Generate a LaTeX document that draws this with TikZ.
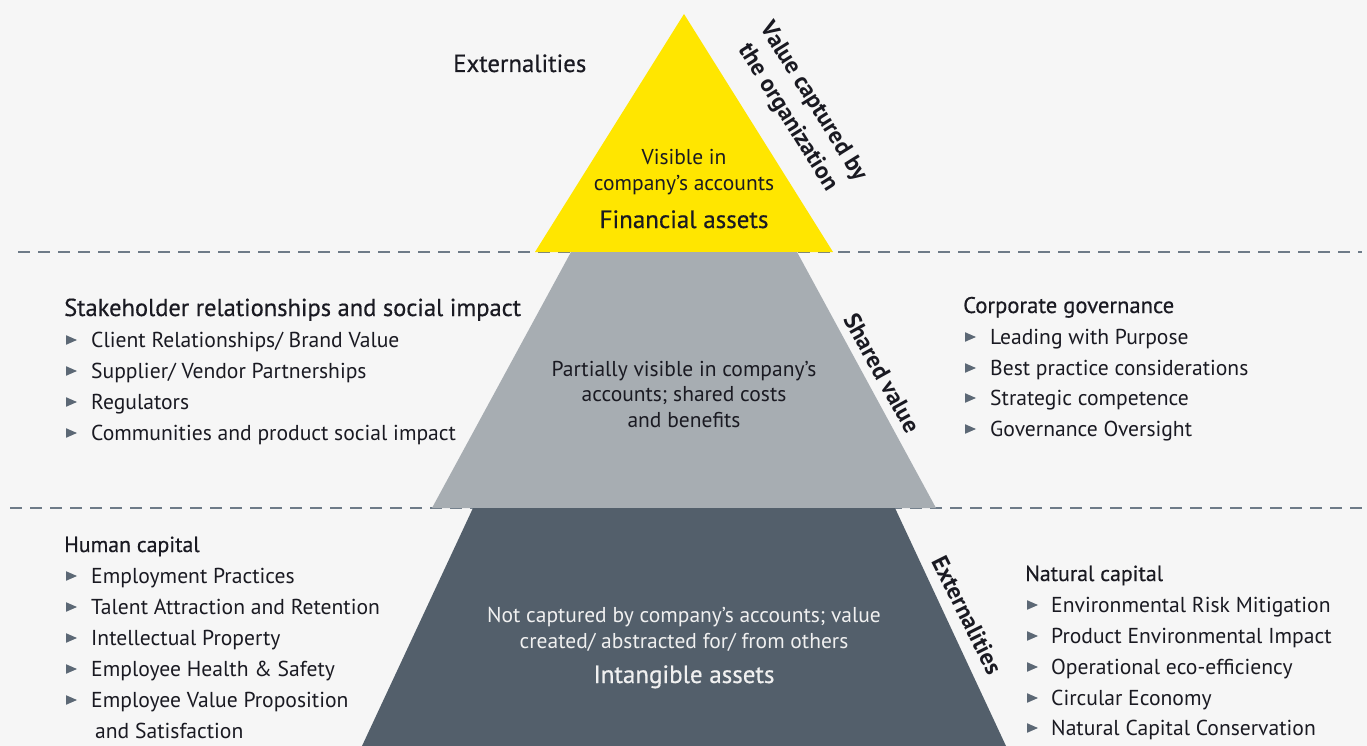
\documentclass[tikz,border=0pt]{standalone}
\usepackage{fontspec}
\setmainfont{PT Sans}
\newfontfamily\medfont[FakeBold=0.5]{PT Sans}
\definecolor{bg}{HTML}{F6F6F6}
\definecolor{yel}{HTML}{FFE600}
\definecolor{midg}{HTML}{A7ADB2}
\definecolor{darkg}{HTML}{535F6B}
\definecolor{txt}{HTML}{1A1A22}
\definecolor{bulc}{HTML}{5C6875}
\definecolor{dashc}{HTML}{6E7B88}
\definecolor{lighttxt}{HTML}{F0F0F0}
\tikzset{
  itemtext/.style={anchor=base west, inner sep=0pt, text=txt, font=\fontsize{21.6}{25}\selectfont},
  headtext/.style={anchor=base west, inner sep=0pt, text=txt, font=\medfont\fontsize{21.8}{25}\selectfont},
  centertext/.style={anchor=base, inner sep=0pt, text=txt, font=\fontsize{21.5}{25}\selectfont},
  assettext/.style={anchor=base, inner sep=0pt, text=txt, font=\medfont\fontsize{25}{28}\selectfont},
  rotlabel/.style={inner sep=0pt, text=txt, align=center, font=\bfseries\fontsize{23.8}{30}\selectfont},
  dashline/.style={draw=dashc, line width=1.4pt, dash pattern=on 12pt off 8pt},
  bullet/.pic={\fill[bulc] (0,-4.8) -- (11,0) -- (0,4.8) -- cycle;}
}
\begin{document}
\begin{tikzpicture}[x=1pt,y=-1pt]
\fill[bg] (0,0) rectangle (1367,746);
\useasboundingbox (0,0) rectangle (1367,746);

% dashed separators
\coordinate (d1a) at (18,252);
\coordinate (d1b) at (1362,252);
\coordinate (d2a) at (10,508);
\coordinate (d2b) at (1362,508);
\draw[dashline] (d1a) -- (d1b);
\draw[dashline] (d2a) -- (d2b);

% pyramid layers
\fill[yel] (684,14) -- (833,252) -- (535,252) -- cycle;
\fill[midg] (571,252) -- (797,252) -- (936,508) -- (432,508) -- cycle;
\fill[darkg] (473,508) -- (895,508) -- (1006,746) -- (362,746) -- cycle;

% top-left title
\node[anchor=base west, inner sep=0pt, text=txt, font=\medfont\fontsize{24.8}{28}\selectfont] (ext1) at (453,72) {Externalities};

% yellow layer texts
\node[centertext] (y1) at (684,165) {Visible in};
\node[centertext] (y2) at (684,191) {company’s accounts};
\node[assettext] (y3) at (684,228) {Financial assets};

% gray layer texts
\node[centertext] (g1) at (684,376) {Partially visible in company’s};
\node[centertext] (g2) at (684,401) {accounts; shared costs};
\node[centertext] (g3) at (684,427) {and benefits};

% dark layer texts
\node[centertext, text=lighttxt] (k1) at (684,622) {Not captured by company’s accounts; value};
\node[centertext, text=lighttxt] (k2) at (684,648) {created/ abstracted for/ from others};
\node[assettext, text=lighttxt] (k3) at (684,683) {Intangible assets};

% rotated side labels
\node[rotlabel, rotate=-58] (vc) at (800,110) {Value captured by\\the organization};
\node[rotlabel, rotate=-61] (sv) at (882,373) {Shared value};
\node[rotlabel, rotate=-63.5] (ex2) at (967,615) {Externalities};

% Stakeholder list
\node[headtext, font=\medfont\fontsize{24.5}{28}\selectfont] (sh) at (64,316) {Stakeholder relationships and social impact};
\pic at (66,340) {bullet};
\node[itemtext] (sh1) at (91,347) {Client Relationships/ Brand Value};
\pic at (66,371) {bullet};
\node[itemtext] (sh2) at (91,378) {Supplier/ Vendor Partnerships};
\pic at (66,402) {bullet};
\node[itemtext] (sh3) at (91,409) {Regulators};
\pic at (66,433) {bullet};
\node[itemtext] (sh4) at (91,440) {Communities and product social impact};

% Human capital list
\node[headtext] (hc) at (64,552) {Human capital};
\pic at (66,576) {bullet};
\node[itemtext] (hc1) at (91,583) {Employment Practices};
\pic at (66,607) {bullet};
\node[itemtext] (hc2) at (91,614) {Talent Attraction and Retention};
\pic at (66,638) {bullet};
\node[itemtext] (hc3) at (91,645) {Intellectual Property};
\pic at (66,669) {bullet};
\node[itemtext] (hc4) at (91,676) {Employee Health \& Safety};
\pic at (66,700) {bullet};
\node[itemtext] (hc5) at (91,707) {Employee Value Proposition};
\node[itemtext] (hc6) at (95,738) {and Satisfaction};

% Corporate governance list
\node[headtext, font=\medfont\fontsize{22.6}{26}\selectfont] (cg) at (963,313) {Corporate governance};
\pic at (965,337) {bullet};
\node[itemtext] (cg1) at (990,344) {Leading with Purpose};
\pic at (965,368) {bullet};
\node[itemtext] (cg2) at (990,375) {Best practice considerations};
\pic at (965,398) {bullet};
\node[itemtext] (cg3) at (990,405) {Strategic competence};
\pic at (965,429) {bullet};
\node[itemtext] (cg4) at (990,436) {Governance Oversight};

% Natural capital list
\node[headtext] (nc) at (1025,581) {Natural capital};
\pic at (1027,605) {bullet};
\node[itemtext] (nc1) at (1051,612) {Environmental Risk Mitigation};
\pic at (1027,636) {bullet};
\node[itemtext] (nc2) at (1051,643) {Product Environmental Impact};
\pic at (1027,667) {bullet};
\node[itemtext] (nc3) at (1051,674) {Operational eco-efficiency};
\pic at (1027,698) {bullet};
\node[itemtext] (nc4) at (1051,705) {Circular Economy};
\pic at (1027,728) {bullet};
\node[itemtext] (nc5) at (1051,735) {Natural Capital Conservation};
\end{tikzpicture}
\end{document}
